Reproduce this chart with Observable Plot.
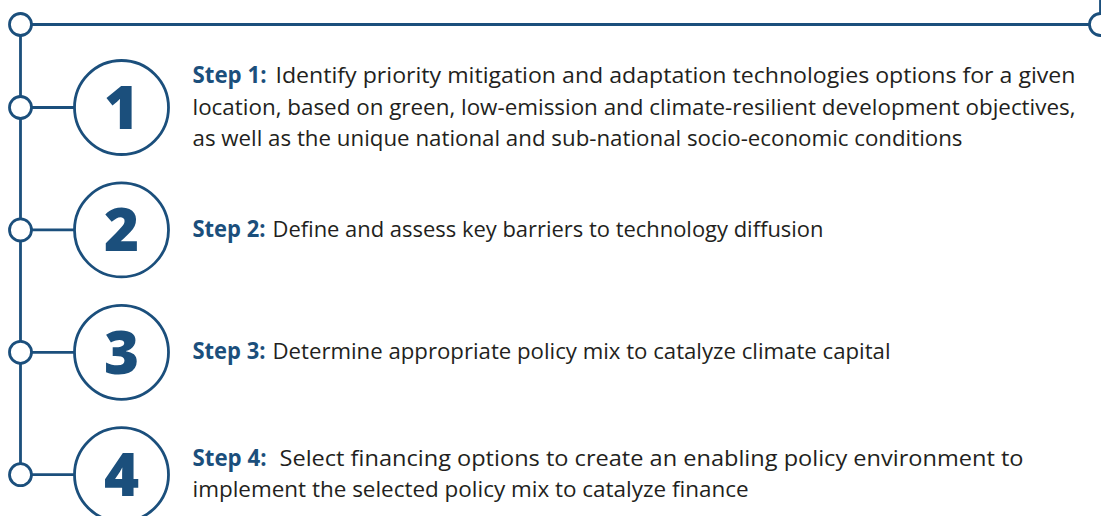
<!DOCTYPE html>
<html><head><meta charset="utf-8">
<script src="https://cdn.jsdelivr.net/npm/d3@7"></script>
<script src="https://cdn.jsdelivr.net/npm/@observablehq/plot@0.6"></script>
<style>html,body{margin:0;padding:0;background:#fff;} svg{display:block;}</style>
</head><body>
<div id="chart"></div>
<script>
// ---- data ----
const steps = ["1", "2", "3", "4"];
const stepLabels = ["Step 1:", "Step 2:", "Step 3:", "Step 4:"];
const stepText = [
  ["Identify priority mitigation and adaptation technologies options for a given",
   "location, based on green, low-emission and climate-resilient development objectives,",
   "as well as the unique national and sub-national socio-economic conditions"],
  ["Define and assess key barriers to technology diffusion"],
  ["Determine appropriate policy mix to catalyze climate capital"],
  ["Select financing options to create an enabling policy environment to",
   "implement the selected policy mix to catalyze finance"]
];

// ---- layout ----
const W = 1101, H = 516;
const blue = "#1b4f7c", ink = "#231f20";
const spineX = 20, topY = 24, rightX = 1100;
const firstY = 107, stepGap = 122.4;
const circleX = 121, circleR = 47, nodeR = 11;
const textX = 192, lineGap = 31.5, baseOff = 7;
const labelEnd = [266, 265, 265, 266];
const bodyStart = [275, 272, 272, 279];
const lineEnds = [[1075, 1075, 962], [823], [890], [1023, 748]];
const font = "'Open Sans', 'Noto Sans', sans-serif";

const yOf = i => firstY + i * stepGap;

const frame = [
  {x: rightX, y: 0}, {x: rightX, y: topY}, {x: spineX, y: topY}, {x: spineX, y: yOf(steps.length - 1)}
];
const nodes = [{x: spineX, y: topY}, {x: rightX, y: topY}]
  .concat(steps.map((s, i) => ({x: spineX, y: yOf(i)})));

const bodyLines = [];
stepText.forEach((lines, i) => {
  const n = lines.length;
  lines.forEach((t, j) => {
    const x0 = j === 0 ? bodyStart[i] : textX;
    bodyLines.push({
      text: t,
      x: x0,
      y: yOf(i) + (j - (n - 1) / 2) * lineGap + baseOff,
      len: lineEnds[i][j] - x0
    });
  });
});
const labelRows = stepLabels.map((t, i) => ({
  text: t, x: textX, y: yOf(i) + (0 - (stepText[i].length - 1) / 2) * lineGap + baseOff,
  len: labelEnd[i] - textX
}));

const sw = 2.8;
const chart = Plot.plot({
  width: W, height: H,
  margin: 0,
  x: {type: "linear", domain: [0, W], range: [0, W], axis: null},
  y: {type: "linear", domain: [0, H], range: [0, H], axis: null},
  style: {fontFamily: font, background: "#fff"},
  marks: [
    Plot.line(frame, {x: "x", y: "y", stroke: blue, strokeWidth: sw, curve: "linear"}),
    Plot.link(steps, {
      x1: () => spineX, x2: () => circleX - circleR,
      y1: (d, i) => yOf(i), y2: (d, i) => yOf(i),
      stroke: blue, strokeWidth: sw
    }),
    Plot.dot(nodes, {x: "x", y: "y", r: nodeR, fill: "#fff", stroke: blue, strokeWidth: sw}),
    Plot.dot(steps, {x: () => circleX, y: (d, i) => yOf(i), r: circleR, fill: "#fff", stroke: blue, strokeWidth: sw}),
    Plot.text(steps, {
      x: () => circleX, y: (d, i) => yOf(i), text: d => d,
      fontSize: 60, fontWeight: 800, fill: blue, fontFamily: font, dy: 2
    }),
    Plot.text(labelRows, {
      x: "x", y: "y", text: "text", textAnchor: "start", lineAnchor: "bottom",
      fontSize: 22.5, fontWeight: "bold", fill: blue, fontFamily: font
    }),
    Plot.text(bodyLines, {
      x: "x", y: "y", text: "text", textAnchor: "start", lineAnchor: "bottom",
      fontSize: 22.5, fill: ink, fontFamily: font
    })
  ]
});
document.getElementById("chart").appendChild(chart);

// fit each text line to its measured width in the reference
const groups = chart.querySelectorAll('g[aria-label="text"]');
const fit = (g, rows) => {
  g.querySelectorAll("text").forEach((el, k) => {
    el.setAttribute("textLength", rows[k].len);
    el.setAttribute("lengthAdjust", "spacingAndGlyphs");
  });
};
fit(groups[1], labelRows);
fit(groups[2], bodyLines);
</script>
</body></html>
